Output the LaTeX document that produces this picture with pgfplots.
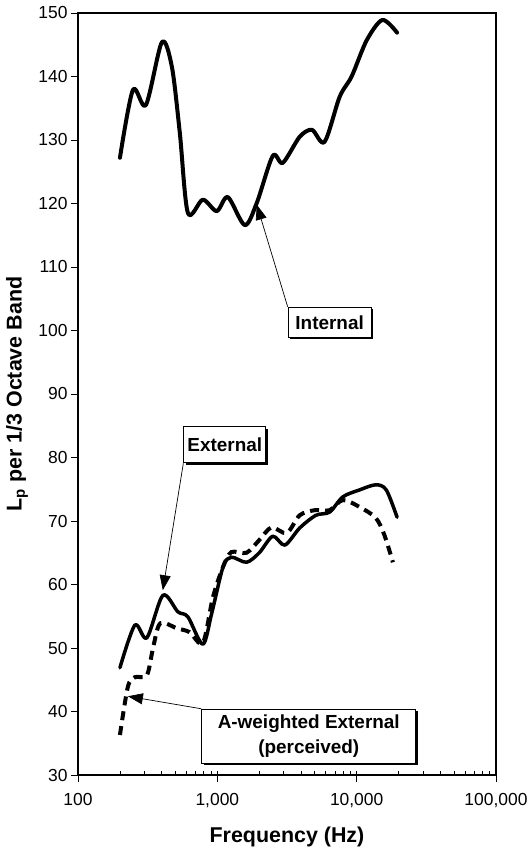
\documentclass[border=0pt]{standalone}
\usepackage{fontspec}
\setmainfont{Liberation Sans}
\usepackage{pgfplots}
\pgfplotsset{compat=1.18}
\usetikzlibrary{shadows,arrows.meta}

\pgfplotstableread{
f L
200 127.2
248 137.9
307 135.5
400 145.4
472 141.5
538 131.1
615 118.5
787 120.6
990 118.8
1190 121.0
1573 116.6
1920 120.1
2500 127.5
2950 126.4
3900 130.5
4780 131.6
5880 129.7
7550 136.8
9200 140.0
11800 145.7
15300 148.9
19500 146.9
}\internal

\pgfplotstableread{
f L
200 46.9
256 53.6
312 51.6
407 58.3
521 55.7
615 54.9
787 50.6
912 55.5
1100 62.8
1260 64.3
1620 63.5
2000 65.0
2500 67.6
3050 66.2
3900 68.9
5100 70.9
6400 71.4
7960 73.8
10500 74.9
13700 75.7
16300 74.9
19500 70.6
}\external

\pgfplotstableread{
f L
200 36.3
228 43.9
256 45.4
312 45.7
347 50.2
390 53.9
513 53.1
632 52.5
787 50.8
930 58.0
1100 62.8
1260 65.1
1620 65.0
2000 67.0
2450 69.0
3150 68.1
3900 70.9
5000 71.7
6400 71.7
7960 73.3
10500 72.2
13700 70.5
15800 67.8
18200 63.5
}\aweighted

\begin{document}
\begin{tikzpicture}[
  box/.style={draw, line width=1bp, fill=white, align=center,
    font=\bfseries\fontsize{19}{25}\selectfont, inner sep=2bp,
    drop shadow={shadow xshift=2bp, shadow yshift=-2bp, fill=black, opacity=1}},
  ann/.style={line width=0.7bp, -{Triangle[length=15bp,width=11bp]}}
]
\begin{axis}[
  name=ax,
  scale only axis, width=418bp, height=762bp,
  xmode=log, xmin=100, xmax=100000, ymin=30, ymax=150,
  xtick={100,1000,10000,100000},
  xticklabels={100,{1,000},{10,000},{100,000}},
  ytick={30,40,...,150},
  xtick pos=bottom, ytick pos=left,
  tick align=outside,
  major tick length=7bp, minor tick length=4bp,
  minor tick style={yshift=4bp},
  axis line style={line width=1.2bp},
  tick style={black, line width=0.8bp},
  /pgf/number format/assume math mode=true,
  every tick label/.append style={font=\fontsize{17.5}{17.5}\selectfont},
  xticklabel style={yshift=-8bp},
  xlabel={Frequency (Hz)},
  ylabel={L\textsubscript{p} per 1/3 Octave Band},
  xlabel style={at={(axis description cs:0.5,0)}, anchor=south, yshift=-72bp, inner sep=0pt,
    font=\bfseries\fontsize{21.5}{24}\selectfont},
  ylabel style={at={(axis description cs:-0.1722,0.5)}, anchor=north, rotate=0, inner sep=0pt,
    font=\bfseries\fontsize{21.5}{24}\selectfont},
  clip=false,
]
\addplot[black, line width=4bp, smooth, tension=0.5, line cap=round, line join=round] table[x=f,y=L] {\internal};
\addplot[black, line width=3.5bp, smooth, tension=0.5, line cap=round, line join=round] table[x=f,y=L] {\external};
\addplot[black, line width=4bp, smooth, tension=0.5, dash pattern=on 9bp off 6bp] table[x=f,y=L] {\aweighted};

\node[box, minimum width=83bp, minimum height=30bp] (int) at (axis cs:6400,101.3) {Internal};
\draw[ann] (int.north west) -- (axis cs:1920,119.8);

\node[box, minimum width=82bp, minimum height=36bp] (ext) at (axis cs:1132,82) {External};
\draw[ann] (ext.south west) -- (axis cs:406,59.1);

\node[box, minimum width=214bp, minimum height=54bp] (aw) at (axis cs:4530,36.1) {A-weighted External\\(perceived)};
\draw[ann] (aw.north west) -- (axis cs:228,42.4);
\end{axis}
\pgfresetboundingbox
\path[use as bounding box] ([shift={(-78bp,-74bp)}]ax.south west) rectangle ([shift={(35bp,13bp)}]ax.north east);
\end{tikzpicture}
\end{document}
